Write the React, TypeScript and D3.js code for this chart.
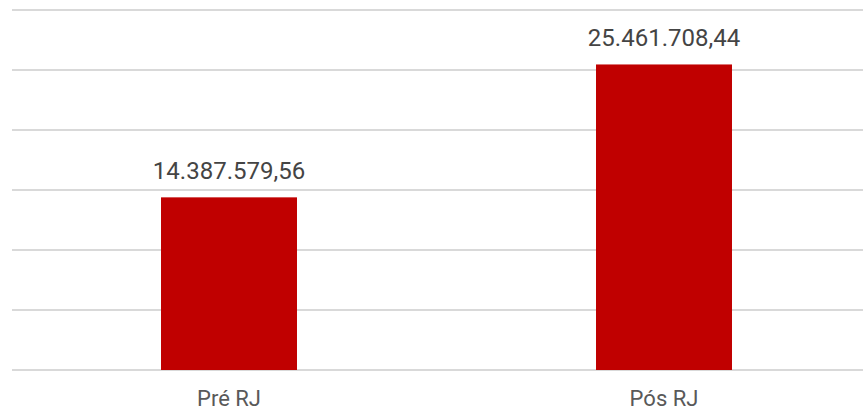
import React from "react";
import * as d3 from "d3";

const categories = ["Pré RJ", "Pós RJ"];
const values = [14387579.56, 25461708.44];
const gridTicks = [0, 5000000, 10000000, 15000000, 20000000, 25000000, 30000000];

const W = 863;
const H = 411;

const fmt = (v: number) => {
  const [intPart, dec] = v.toFixed(2).split(".");
  return intPart.replace(/\B(?=(\d{3})+(?!\d))/g, ".") + "," + dec;
};

export default function App() {
  const x = d3
    .scaleBand<string>()
    .domain(categories)
    .range([11.5, 881.5])
    .paddingInner(0.6874)
    .paddingOuter(0.3437);
  const y = d3.scaleLinear().domain([0, 30000000]).range([370, 10]);
  const font = "Roboto, 'Noto Sans', sans-serif";
  return (
    <svg
      width={W}
      height={H}
      style={{ position: "absolute", left: 0, top: 0, background: "#fff" }}
    >
      {gridTicks.map((t) => (
        <line
          key={t}
          x1={12}
          x2={W}
          y1={y(t)}
          y2={y(t)}
          stroke="#d9d9d9"
          strokeWidth={2}
        />
      ))}
      {categories.map((c, i) => (
        <g key={c}>
          <rect
            x={x(c)}
            y={y(values[i])}
            width={x.bandwidth()}
            height={y(0) - y(values[i])}
            fill="#c00000"
          />
          <text
            x={(x(c) as number) + x.bandwidth() / 2}
            y={y(values[i]) - 18}
            textAnchor="middle"
            fontFamily={font}
            fontSize={24}
            fill="#444444"
          >
            {fmt(values[i])}
          </text>
          <text
            x={(x(c) as number) + x.bandwidth() / 2}
            y={406}
            textAnchor="middle"
            fontFamily={font}
            fontSize={22}
            fill="#595959"
          >
            {c}
          </text>
        </g>
      ))}
    </svg>
  );
}
